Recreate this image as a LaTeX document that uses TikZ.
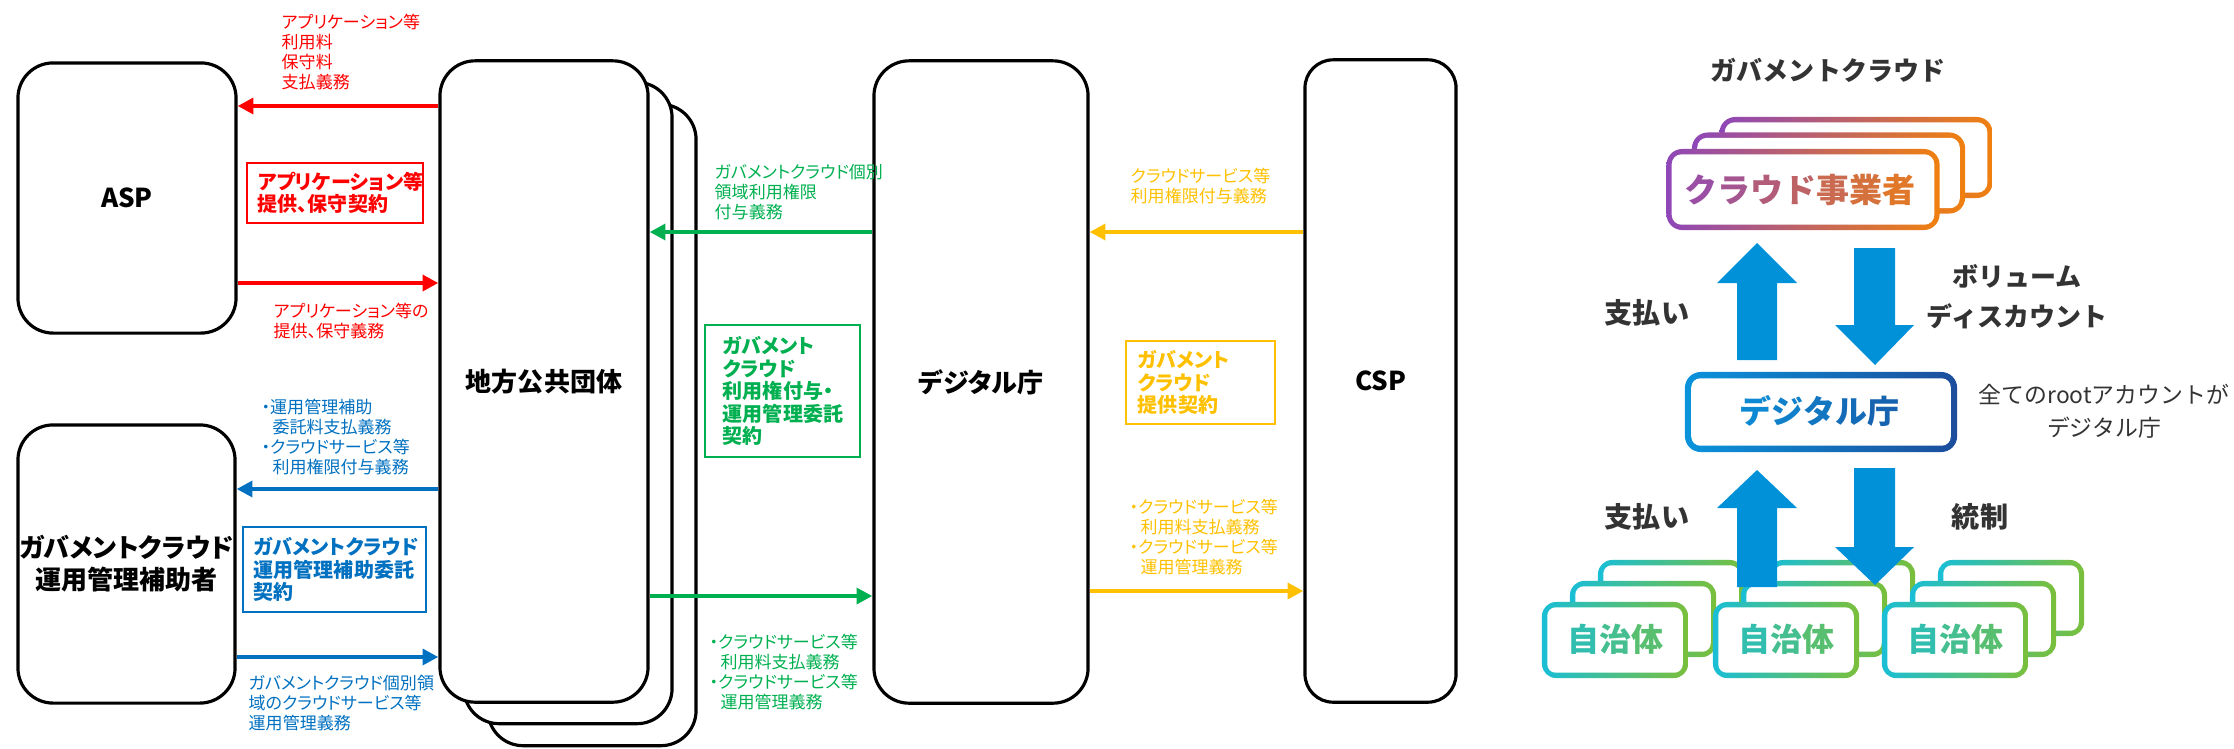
\documentclass[tikz,border=0pt]{standalone}
\usepackage{fontspec}
\setmainfont{Noto Sans CJK JP}[RawFeature=+palt]
\newfontfamily\jpw{Noto Sans CJK JP}
\usetikzlibrary{arrows.meta}
\definecolor{jred}{HTML}{FF0000}
\definecolor{jgreen}{HTML}{00B050}
\definecolor{jblue}{HTML}{0070C0}
\definecolor{jyellow}{HTML}{FFC000}
\definecolor{cpurp}{HTML}{8E47B8}
\definecolor{corng}{HTML}{F0800F}
\definecolor{ccyan}{HTML}{19BED6}
\definecolor{cgrn}{HTML}{7ABF3B}
\definecolor{dbl}{HTML}{0A93DB}
\definecolor{dnavy}{HTML}{1C4D9C}
\definecolor{barr}{HTML}{0091D9}
\definecolor{dtxt}{HTML}{333333}
\newcommand{\myfs}[2]{\fontsize{#1}{#2}\selectfont}
\newcommand{\kp}[2]{\textcolor{cpurp!#1!corng}{#2}}
\newcommand{\kc}[2]{\textcolor{ccyan!#1!cgrn}{#2}}
\newcommand{\kd}[2]{\textcolor{dbl!#1!dnavy}{#2}}
\begin{document}
\begin{tikzpicture}[x=0.01cm,y=-0.01cm,
  blk/.style={draw=black, line width=0.9pt, fill=white, rounded corners=10pt, inner sep=0pt, align=center, font={\bfseries\myfs{7.4pt}{9.1pt}}},
  lab/.style={anchor=north west, inner sep=0pt, align=left, font={\myfs{4.84pt}{5.69pt}}},
  cbox/.style={draw, fill=white, line width=0.6pt, inner ysep=0pt, align=left, font={\bfseries\myfs{5.69pt}{6.4pt}}},
  arr/.style={line width=1.25pt, -{Triangle[length=4.5pt,width=4.5pt]}},
  rlab/.style={inner sep=0pt, align=center, text=dtxt, font={\jpw\bfseries\myfs{7.4pt}{11.4pt}}},
  gshade/.style 2 args={left color=#1, right color=#2, inner sep=0pt},
  barrow/.style={fill=barr, draw=none}
]
\useasboundingbox (0,0) rectangle (2234,748);

% ---------------- left: contract diagram ----------------
\node[blk, minimum width=2.18cm, minimum height=2.70cm] (asp) at (127,198) {ASP};
\node[blk, minimum width=2.17cm, minimum height=2.78cm] (hojo) at (126.5,564) {ガバメントクラウド\\運用管理補助者};
\node[blk, minimum width=2.08cm, minimum height=6.41cm] (chiho3) at (592,425) {};
\node[blk, minimum width=2.08cm, minimum height=6.41cm] (chiho2) at (568,403) {};
\node[blk, minimum width=2.08cm, minimum height=6.41cm] (chiho) at (544,381.5) {地方公共団体};
\node[blk, minimum width=2.14cm, minimum height=6.42cm] (digi) at (981,382) {デジタル庁};
\node[blk, rounded corners=8pt, minimum width=1.51cm, minimum height=6.42cm] (csp) at (1380.5,381) {CSP};

% arrows
\draw[arr, jred] (chiho.west |- 0,106) -- (asp.east |- 0,106);
\draw[arr, jred] (asp.east |- 0,283) -- (chiho.west |- 0,283);
\draw[arr, jblue] (chiho.west |- 0,489) -- (hojo.east |- 0,489);
\draw[arr, jblue] (hojo.east |- 0,657) -- (chiho.west |- 0,657);
\draw[arr, jgreen] (digi.west |- 0,232) -- (chiho.east |- 0,232);
\draw[arr, jgreen] (chiho.east |- 0,596) -- (digi.west |- 0,596);
\draw[arr, jyellow] (csp.west |- 0,232) -- (digi.east |- 0,232);
\draw[arr, jyellow] (digi.east |- 0,591) -- (csp.west |- 0,591);

% small labels
\node[lab, text=jred] (lr1) at (281,13.5) {アプリケーション等\\利用料\\保守料\\支払義務};
\node[lab, text=jred] (lr2) at (273,302.5) {アプリケーション等の\\提供、保守義務};
\node[lab, text=jblue] (lb1) at (261,398.5) {・運用管理補助\\\hspace*{3.1pt}委託料支払義務\\・クラウドサービス等\\\hspace*{3.1pt}利用権限付与義務};
\node[lab, text=jblue] (lb2) at (248,674.5) {ガバメントクラウド個別領\\域のクラウドサービス等\\運用管理義務};
\node[lab, text=jgreen] (lg1) at (714,163.5) {ガバメントクラウド個別\\領域利用権限\\付与義務};
\node[lab, text=jgreen] (lg2) at (709,633.5) {・クラウドサービス等\\\hspace*{3.1pt}利用料支払義務\\・クラウドサービス等\\\hspace*{3.1pt}運用管理義務};
\node[lab, text=jyellow] (ly1) at (1130,167.5) {クラウドサービス等\\利用権限付与義務};
\node[lab, text=jyellow] (ly2) at (1129,498.5) {・クラウドサービス等\\\hspace*{3.1pt}利用料支払義務\\・クラウドサービス等\\\hspace*{3.1pt}運用管理義務};

% contract boxes
\node[cbox, draw=jred, text=jred, minimum height=0.60cm, text width=1.54cm, inner xsep=0.11cm] (rbox) at (335,193) {アプリケーション等\\提供、保守契約};
\node[cbox, draw=jblue, text=jblue, minimum height=0.85cm, text width=1.61cm, inner xsep=0.11cm] (bbox) at (334.5,569.5) {ガバメントクラウド\\運用管理補助委託\\契約};
\node[cbox, draw=jgreen, text=jgreen, minimum height=1.32cm, text width=1.19cm, inner xsep=0.18cm] (gbox) at (782.5,391) {ガバメント\\クラウド\\利用権付与・\\運用管理委託\\契約};
\node[cbox, draw=jyellow, text=jyellow, minimum height=0.83cm, text width=1.25cm, inner xsep=0.12cm] (ybox) at (1200.5,382.5) {ガバメント\\クラウド\\提供契約};

% ---------------- right: overview ----------------
\node[rlab] (gctitle) at (1828,70) {ガバメントクラウド};

% cloud provider stack
\foreach \k/\cx/\cy in {3/1856/157.5, 2/1828.5/173, 1/1803/189.5} {
  \node[gshade={cpurp}{corng}, rounded corners=4.5pt, minimum width=2.73cm, minimum height=0.81cm] (cl\k) at (\cx,\cy) {};
  \fill[white, rounded corners=2.8pt] ([shift={(6,6)}]cl\k.north west) rectangle ([shift={(-6,-6)}]cl\k.south east);
}
\node[inner sep=0pt, font={\jpw\bfseries\myfs{9.4pt}{9.4pt}}] (cltext) at (1800,190) {\kp{88}{ク}\kp{76}{ラ}\kp{63}{ウ}\kp{51}{ド}\kp{39}{事}\kp{27}{業}\kp{15}{者}};

% digital agency box
\node[gshade={dbl}{dnavy}, rounded corners=4.5pt, minimum width=2.72cm, minimum height=0.80cm] (dg) at (1821,412) {};
\fill[white, rounded corners=2.6pt] ([shift={(7,7)}]dg.north west) rectangle ([shift={(-7,-7)}]dg.south east);
\node[inner sep=0pt, font={\jpw\bfseries\myfs{9.1pt}{9.1pt}}] (dgtext) at (1819,411) {\kd{85}{デ}\kd{72}{ジ}\kd{58}{タ}\kd{45}{ル}\kd{32}{庁}};

% municipalities
\foreach \g/\gx in {a/0, b/171, c/340} {
  \foreach \k in {2,1,0} {
    \node[gshade={ccyan}{cgrn}, rounded corners=4pt, minimum width=1.46cm, minimum height=0.76cm] (j\g\k) at (1615+\gx+28*\k, 640-21*\k) {};
    \fill[white, rounded corners=2.4pt] ([shift={(6,6)}]j\g\k.north west) rectangle ([shift={(-6,-6)}]j\g\k.south east);
  }
  \node[inner sep=0pt, font={\jpw\bfseries\myfs{9.1pt}{9.1pt}}] (jt\g) at (1615+\gx,639) {\kc{75}{自}\kc{55}{治}\kc{35}{体}};
}

% block arrows
\fill[barrow] (1757,243) -- (1797,283) -- (1777,283) -- (1777,360) -- (1737,360) -- (1737,283) -- (1717,283) -- cycle;
\fill[barrow] (1854,248) -- (1895,248) -- (1895,325) -- (1914,325) -- (1875,365) -- (1835,325) -- (1854,325) -- cycle;
\fill[barrow] (1757,470) -- (1797,508) -- (1777,508) -- (1777,587) -- (1737,587) -- (1737,508) -- (1717,508) -- cycle;
\fill[barrow] (1854,468) -- (1895,468) -- (1895,547) -- (1914,547) -- (1875,585) -- (1835,547) -- (1854,547) -- cycle;

% right labels
\node[rlab, font={\jpw\bfseries\myfs{8pt}{8pt}}] (pay1) at (1647,313) {支払い};
\node[rlab] (vol) at (2017,297) {ボリューム\\ディスカウント};
\node[rlab, font={\jpw\bfseries\myfs{8pt}{8pt}}] (pay2) at (1647,517) {支払い};
\node[rlab, font={\jpw\bfseries\myfs{8pt}{8pt}}] (ctrl) at (1980,517) {統制};
\node[rlab, font={\jpw\myfs{6.5pt}{9.4pt}}] (root) at (2104,411.5) {全てのrootアカウントが\\デジタル庁};
\end{tikzpicture}
\end{document}
